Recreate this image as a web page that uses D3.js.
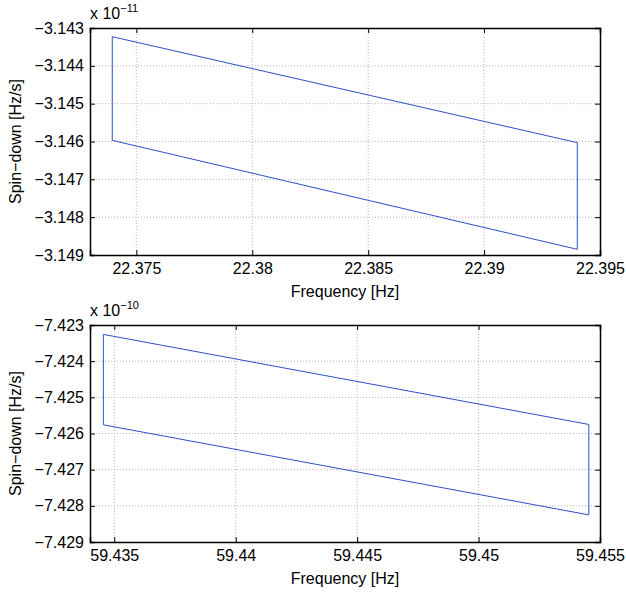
<!DOCTYPE html>
<html>
<head>
<meta charset="utf-8">
<script src="https://cdn.jsdelivr.net/npm/d3@7"></script>
<style>
  body { margin: 0; background: #fff; }
  svg { display: block; }
  .tick text { font-family: "Liberation Sans", Arial, sans-serif; }
</style>
</head>
<body>
<div id="main"></div>
<script>
!(function () {
  'use strict';
  // - - - - - - - - - -

  // data (values in units of the exponent shown on each panel)
  const topFreq = [22.37396, 22.39402, 22.39402, 22.37396, 22.37396];
  const topSpin = [-3.14323, -3.14603, -3.14885, -3.14597, -3.14323];
  const topXTicks = [22.375, 22.38, 22.385, 22.39, 22.395];
  const topYTicks = [-3.143, -3.144, -3.145, -3.146, -3.147, -3.148, -3.149];

  const botFreq = [59.43455, 59.45454, 59.45454, 59.43455, 59.43455];
  const botSpin = [-7.42326, -7.42575, -7.42825, -7.42576, -7.42326];
  const botXTicks = [59.435, 59.44, 59.445, 59.45, 59.455];
  const botYTicks = [-7.423, -7.424, -7.425, -7.426, -7.427, -7.428, -7.429];

  // configuration
  const canvas = { context: '#main', width: 626, height: 594 };
  const font = '"Liberation Sans", Arial, Helvetica, sans-serif';
  const fontSize = 16;
  const lineColor = '#2f4fc8';

  const panels = [
    {
      freq: topFreq, spin: topSpin, xTicks: topXTicks, yTicks: topYTicks,
      xDomain: [22.373, 22.395], yDomain: [-3.149, -3.143], exp: '\u221211',
      box: { left: 90, right: 600, top: 28, bottom: 255 }
    },
    {
      freq: botFreq, spin: botSpin, xTicks: botXTicks, yTicks: botYTicks,
      xDomain: [59.434, 59.455], yDomain: [-7.429, -7.423], exp: '\u221210',
      box: { left: 90, right: 600, top: 325, bottom: 542 }
    }
  ];

  const svg = d3.select(canvas.context)
    .append('svg')
    .attr('width', canvas.width)
    .attr('height', canvas.height);

  function fmt(v) {
    return String(+v.toFixed(4)).replace('-', '\u2212');
  }

  function drawPanel(p) {
    const b = p.box;
    const xScale = d3.scaleLinear().domain(p.xDomain).range([b.left, b.right]);
    const yScale = d3.scaleLinear().domain(p.yDomain).range([b.bottom, b.top]);
    const g = svg.append('g');

    // grid
    g.append('g')
      .selectAll('line.vx')
      .data(p.xTicks.filter(t => xScale(t) > b.left + 1 && xScale(t) < b.right - 1))
      .join('line')
      .attr('x1', d => xScale(d)).attr('x2', d => xScale(d))
      .attr('y1', b.top).attr('y2', b.bottom)
      .attr('stroke', '#a0a0a0').attr('stroke-width', 0.8)
      .attr('stroke-dasharray', '1,2');
    g.append('g')
      .selectAll('line.hy')
      .data(p.yTicks.filter(t => yScale(t) > b.top + 1 && yScale(t) < b.bottom - 1))
      .join('line')
      .attr('x1', b.left).attr('x2', b.right)
      .attr('y1', d => yScale(d)).attr('y2', d => yScale(d))
      .attr('stroke', '#a0a0a0').attr('stroke-width', 0.8)
      .attr('stroke-dasharray', '1,2');

    // data line
    const line = d3.line()
      .x((d, i) => xScale(p.freq[i]))
      .y((d, i) => yScale(p.spin[i]));
    g.append('path')
      .datum(p.freq)
      .attr('d', line)
      .attr('fill', 'none')
      .attr('stroke', lineColor)
      .attr('stroke-width', 1);

    // axes (ticks inward on all four sides)
    const tl = 5;
    const xb = g.append('g')
      .attr('transform', 'translate(0,' + b.bottom + ')')
      .call(d3.axisBottom(xScale).tickValues(p.xTicks).tickSize(-tl).tickPadding(8).tickFormat(fmt));
    const xt = g.append('g')
      .attr('transform', 'translate(0,' + b.top + ')')
      .call(d3.axisTop(xScale).tickValues(p.xTicks).tickSize(-tl).tickFormat(''));
    const yl = g.append('g')
      .attr('transform', 'translate(' + b.left + ',0)')
      .call(d3.axisLeft(yScale).tickValues(p.yTicks).tickSize(-tl).tickPadding(6).tickFormat(fmt));
    const yr = g.append('g')
      .attr('transform', 'translate(' + b.right + ',0)')
      .call(d3.axisRight(yScale).tickValues(p.yTicks).tickSize(-tl).tickFormat(''));

    [xb, xt, yl, yr].forEach(a => {
      a.select('.domain').attr('stroke', '#000').attr('stroke-width', 1.5);
      a.selectAll('.tick line').attr('stroke', '#000').attr('stroke-width', 1);
      a.selectAll('.tick text')
        .attr('fill', '#000')
        .style('font-family', font)
        .style('font-size', fontSize + 'px');
    });
    xb.selectAll('.tick text').attr('dy', '0.71em');

    // axis titles
    g.append('text')
      .attr('x', (b.left + b.right) / 2)
      .attr('y', b.bottom + 42)
      .attr('text-anchor', 'middle')
      .style('font-family', font)
      .style('font-size', fontSize + 'px')
      .text('Frequency [Hz]');
    g.append('text')
      .attr('transform', 'translate(' + 21 + ',' + ((b.top + b.bottom) / 2) + ') rotate(-90)')
      .attr('text-anchor', 'middle')
      .style('font-family', font)
      .style('font-size', fontSize + 'px')
      .text('Spin\u2212down [Hz/s]');

    // exponent label
    const e = g.append('text')
      .attr('x', b.left)
      .attr('y', b.top - 9)
      .style('font-family', font)
      .style('font-size', fontSize + 'px');
    e.append('tspan').text('x 10');
    e.append('tspan')
      .attr('dy', -7)
      .style('font-size', '11px')
      .text(p.exp);
  }

  // control
  panels.forEach(drawPanel);

  // - - - - - - - - - -
}());
</script>
</body>
</html>
